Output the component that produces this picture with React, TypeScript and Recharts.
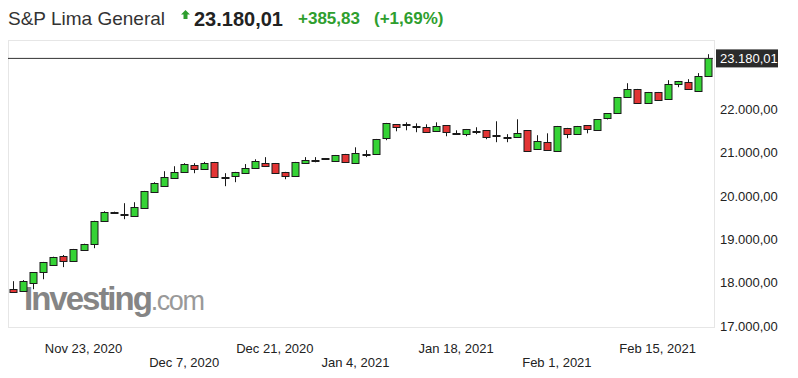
import { ComposedChart, Bar, XAxis, YAxis, ReferenceLine } from 'recharts';

const DATES = [
  'Nov 12, 2020', 'Nov 13, 2020', 'Nov 16, 2020', 'Nov 17, 2020', 'Nov 18, 2020', 'Nov 19, 2020', 'Nov 20, 2020',
  'Nov 23, 2020', 'Nov 24, 2020', 'Nov 25, 2020', 'Nov 26, 2020', 'Nov 27, 2020', 'Nov 30, 2020',
  'Dec 1, 2020', 'Dec 2, 2020', 'Dec 3, 2020', 'Dec 4, 2020',
  'Dec 7, 2020', 'Dec 9, 2020', 'Dec 10, 2020', 'Dec 11, 2020', 'Dec 14, 2020', 'Dec 15, 2020', 'Dec 16, 2020', 'Dec 17, 2020', 'Dec 18, 2020',
  'Dec 21, 2020', 'Dec 22, 2020', 'Dec 23, 2020', 'Dec 24, 2020', 'Dec 28, 2020', 'Dec 29, 2020', 'Dec 30, 2020', 'Dec 31, 2020',
  'Jan 4, 2021', 'Jan 5, 2021', 'Jan 6, 2021', 'Jan 7, 2021', 'Jan 8, 2021', 'Jan 11, 2021', 'Jan 12, 2021', 'Jan 13, 2021', 'Jan 14, 2021', 'Jan 15, 2021',
  'Jan 18, 2021', 'Jan 19, 2021', 'Jan 20, 2021', 'Jan 21, 2021', 'Jan 22, 2021', 'Jan 25, 2021', 'Jan 26, 2021', 'Jan 27, 2021', 'Jan 28, 2021', 'Jan 29, 2021',
  'Feb 1, 2021', 'Feb 2, 2021', 'Feb 3, 2021', 'Feb 4, 2021', 'Feb 5, 2021', 'Feb 8, 2021', 'Feb 9, 2021', 'Feb 10, 2021', 'Feb 11, 2021', 'Feb 12, 2021',
  'Feb 15, 2021', 'Feb 16, 2021', 'Feb 17, 2021', 'Feb 18, 2021', 'Feb 19, 2021', 'Feb 22, 2021',
];

const OPEN = [
  17850, 17800, 17990, 18243, 18405, 18613, 18497,
  18751, 18890, 19421, 19600, 19575, 19536,
  19721, 20090, 20229, 20413,
  20552, 20714, 20622, 20783, 20430, 20460, 20529, 20645, 20760,
  20760, 20552, 20460, 20760, 20810, 20855, 20806, 20968,
  20760, 20960, 20968, 21337, 21658, 21640, 21605, 21589, 21497, 21635,
  21440, 21429, 21495, 21520, 21400, 21355, 21360, 21520, 21083, 21245,
  21037, 21568, 21429, 21635, 21520, 21797, 21912, 22284, 22469, 22145,
  22400, 22238, 22584, 22630, 22420, 22769,
];

const HIGH = [
  18035, 18060, 18245, 18480, 18600, 18640, 18780,
  18900, 19430, 19650, 19640, 19836, 19859,
  20120, 20320, 20575, 20690,
  20760, 20760, 20790, 20790, 20529, 20560, 20740, 20850, 20899,
  20765, 20560, 20790, 20900, 20900, 20880, 20950, 20975,
  21127, 21060, 21320, 21690, 21665, 21704, 21680, 21658, 21704, 21640,
  21520, 21550, 21590, 21525, 21728, 21430, 21774, 21525, 21406, 21450,
  21620, 21575, 21620, 21640, 21780, 21915, 22290, 22607, 22475, 22405,
  22405, 22677, 22660, 22700, 22840, 23277,
];

const LOW = [
  17770, 17790, 17850, 18080, 18395, 18360, 18490,
  18745, 18797, 19415, 19595, 19467, 19530,
  19715, 20085, 20225, 20405,
  20545, 20529, 20615, 20430, 20229, 20321, 20520, 20640, 20695,
  20520, 20390, 20455, 20755, 20780, 20840, 20800, 20775,
  20755, 20900, 20960, 21291, 21497, 21520, 21475, 21470, 21490, 21382,
  21430, 21382, 21430, 21314, 21245, 21245, 21355, 21030, 21075, 21055,
  21030, 21337, 21425, 21450, 21515, 21770, 21905, 22280, 22140, 22140,
  22210, 22232, 22515, 22465, 22415, 22760,
];

const CLOSE = [
  17780, 18035, 18243, 18474, 18590, 18497, 18774,
  18890, 19421, 19629, 19625, 19590, 19744,
  20114, 20298, 20437, 20552,
  20737, 20622, 20760, 20437, 20445, 20552, 20645, 20806, 20702,
  20529, 20460, 20783, 20829, 20830, 20870, 20944, 20783,
  20991, 20980, 21314, 21681, 21589, 21655, 21620, 21474, 21612, 21474,
  21455, 21545, 21505, 21360, 21410, 21365, 21452, 21037, 21268, 21060,
  21614, 21429, 21614, 21545, 21774, 21912, 22284, 22469, 22145, 22400,
  22215, 22584, 22653, 22469, 22769, 23180.01,
];

const TICKS = ['Nov 23, 2020', 'Dec 7, 2020', 'Dec 21, 2020', 'Jan 4, 2021', 'Jan 18, 2021', 'Feb 1, 2021', 'Feb 15, 2021'];
const Y_TICKS = [17000, 18000, 19000, 20000, 21000, 22000];
const LAST = 23180.01;

const data = DATES.map((date, i) => ({
  date,
  open: OPEN[i],
  high: HIGH[i],
  low: LOW[i],
  close: CLOSE[i],
}));

const FONT = 'Arial, "Liberation Sans", sans-serif';

// 22000 -> "22.000,00"
function fmt(v: number) {
  const [int, dec] = v.toFixed(2).split('.');
  return int.replace(/\B(?=(\d{3})+(?!\d))/g, '.') + ',' + dec;
}

function Candle(props: any) {
  const { x, y, width, height, payload } = props;
  const top = Math.min(y, y + height);
  const h = Math.abs(height);
  const range = payload.high - payload.low;
  const k = range > 0 ? h / range : 0;
  const yO = top + (payload.high - payload.open) * k;
  const yC = top + (payload.high - payload.close) * k;
  const cx = Math.round(x + width / 2) + 0.5;
  const up = payload.close >= payload.open;
  const bTop = Math.round(Math.min(yO, yC)) + 0.5;
  const bH = Math.max(Math.round(Math.abs(yO - yC)), 1);
  return (
    <g>
      <line x1={cx} x2={cx} y1={top} y2={top + h} stroke="#1a1a1a" strokeWidth={1} />
      <rect x={cx - 3.5} y={bTop} width={7} height={bH} fill={up ? '#35d335' : '#e23434'} stroke="#1a1a1a" strokeWidth={1} />
    </g>
  );
}

function XTick(props: any) {
  const { x, y, payload } = props;
  const row = TICKS.indexOf(payload.value) % 2;
  return (
    <text x={x} y={y + (row ? 40.5 : 26.5)} textAnchor="middle" fontSize={13} fontFamily={FONT} fill="#222">
      {payload.value}
    </text>
  );
}

function YTick(props: any) {
  const { x, y, payload } = props;
  return (
    <text x={x} y={y + 4.5} textAnchor="start" fontSize={13} fontFamily={FONT} fill="#222">
      {fmt(payload.value)}
    </text>
  );
}

function LastLabel(props: any) {
  const { viewBox } = props;
  const bx = viewBox.x + viewBox.width + 3;
  const by = viewBox.y;
  return (
    <g>
      <rect x={bx} y={by - 9} width={62} height={18} fill="#2b2b2b" />
      <text x={bx + 4} y={by + 4.5} fontSize={13} fontFamily={FONT} fill="#fff">
        {fmt(LAST)}
      </text>
    </g>
  );
}

export default function App() {
  return (
    <div style={{ position: 'relative', width: 790, height: 370, fontFamily: FONT }}>
      <div style={{ position: 'absolute', left: 0, top: 0, height: 22, lineHeight: '22px', fontSize: 19, color: '#333', whiteSpace: 'nowrap' }}>
        S&amp;P Lima General
      </div>
      <svg style={{ position: 'absolute', left: 173, top: 2 }} width={9} height={10}>
        <polygon points="4.5,0 9,4.5 6.5,4.5 6.5,9 2.5,9 2.5,4.5 0,4.5" fill="#2e9e2e" />
      </svg>
      <div style={{ position: 'absolute', left: 186, top: 0, height: 22, lineHeight: '22px', fontSize: 20, fontWeight: 'bold', color: '#222' }}>
        23.180,01
      </div>
      <div style={{ position: 'absolute', left: 290, top: 0, height: 22, lineHeight: '22px', fontSize: 17, fontWeight: 'bold', color: '#2e9e2e' }}>
        +385,83
      </div>
      <div style={{ position: 'absolute', left: 366, top: 0, height: 22, lineHeight: '22px', fontSize: 17, fontWeight: 'bold', color: '#2e9e2e' }}>
        (+1,69%)
      </div>

      {/* plot frame */}
      <div style={{ position: 'absolute', left: 0, top: 32, width: 705, height: 286, border: '1px solid #e6e6e6' }} />

      {/* watermark */}
      <div style={{ position: 'absolute', left: 16, top: 272, whiteSpace: 'nowrap', color: '#858585' }}>
        <span style={{ fontSize: 33, fontWeight: 'bold', letterSpacing: -2 }}>Investing</span>
        <span style={{ fontSize: 27, letterSpacing: -1.5, color: '#999' }}>.com</span>
      </div>

      <div style={{ position: 'absolute', left: 0, top: 0 }}>
        <ComposedChart width={790} height={370} data={data} margin={{ top: 32, right: 0, bottom: 0, left: 0 }}>
          <XAxis dataKey="date" ticks={TICKS} interval={0} axisLine={false} tickLine={false} tickSize={0} tickMargin={0} height={52} tick={<XTick />} />
          <YAxis orientation="right" domain={[17000, 23605]} ticks={Y_TICKS} allowDataOverflow axisLine={false} tickLine={false} tickSize={0} tickMargin={7} width={85} tick={<YTick />} />
          <ReferenceLine y={LAST} stroke="#333" strokeWidth={1} label={<LastLabel />} />
          <Bar dataKey={(d: any) => [d.low, d.high]} shape={<Candle />} isAnimationActive={false} />
        </ComposedChart>
      </div>
    </div>
  );
}
